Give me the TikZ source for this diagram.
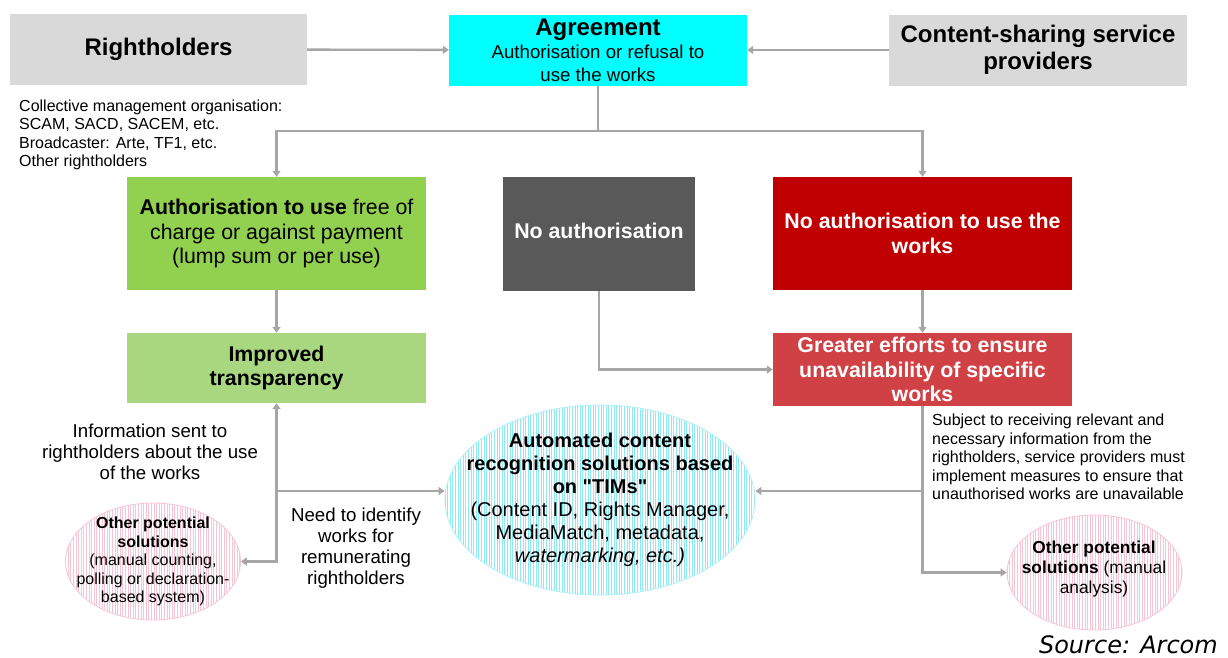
\documentclass[tikz,border=0pt]{standalone}
\usepackage{fontspec}
\setmainfont{Liberation Sans}[Ligatures=TeXOff]
\newfontfamily\srcfont{DejaVu Sans}
\usetikzlibrary{arrows.meta,shapes.geometric}
\definecolor{boxgray}{HTML}{D9D9D9}
\definecolor{agrcyan}{HTML}{00FFFF}
\definecolor{authgreen}{HTML}{92D050}
\definecolor{lightgreen}{HTML}{A9D77F}
\definecolor{darkgraybox}{HTML}{595959}
\definecolor{deepred}{HTML}{C00000}
\definecolor{midred}{HTML}{D04145}
\definecolor{linegray}{HTML}{A6A6A6}
\definecolor{hatchcyan}{HTML}{8CEAF3}
\definecolor{hatchpink}{HTML}{F7C4D4}
\tikzset{
  box/.style={rectangle, inner sep=0pt, align=center},
  conn/.style={draw=linegray, line width=2.4pt},
  arr/.style={conn, -{Triangle[length=6pt,width=8pt]}},
  arrboth/.style={conn, {Triangle[length=6pt,width=8pt]}-{Triangle[length=6pt,width=8pt]}},
  fbig/.style={font=\bfseries\fontsize{24}{27}\selectfont},
  fmid/.style={font=\fontsize{18.67}{21.2}\selectfont},
  fsmall/.style={font=\fontsize{16}{18.4}\selectfont},
  fbox/.style={font=\bfseries\fontsize{21.33}{24.5}\selectfont},
  hatchc/.style={ellipse, inner sep=0pt, draw=hatchcyan!70, line width=0.8pt,
    path picture={\foreach \i in {0,2.6,...,330}{\draw[hatchcyan, line width=0.9pt]
      ([xshift=\i pt]path picture bounding box.south west) -- ([xshift=\i pt]path picture bounding box.north west);}}},
  hatchp/.style={ellipse, inner sep=0pt, draw=hatchpink, line width=0.8pt,
    path picture={\foreach \i in {0,2.6,...,190}{\draw[hatchpink, line width=0.8pt]
      ([xshift=\i pt]path picture bounding box.south west) -- ([xshift=\i pt]path picture bounding box.north west);}}},
}
\begin{document}
\begin{tikzpicture}[x=1pt,y=-1pt]
\useasboundingbox (0,0) rectangle (1228,657);
\fill[white] (0,0) rectangle (1228,657);

% top row
\node[box, fill=boxgray, minimum width=297, minimum height=71, fbig] (rh) at (158.5,49.5) {Rightholders};
\node[box, fill=agrcyan, minimum width=298, minimum height=71,
      font=\fontsize{18.67}{23}\selectfont] (agr) at (598,50)
  {{\bfseries\fontsize{24}{23}\selectfont Agreement}\\
   Authorisation or refusal to\\
   use the works};
\node[box, fill=boxgray, minimum width=298, minimum height=71, fbig] (csp) at (1038,50)
  {Content-sharing service\\providers};

\node[anchor=west, align=left, inner sep=0pt, fsmall] (rhinfo) at (19,135)
  {Collective management organisation:\\SCAM, SACD, SACEM, etc.\\Broadcaster: Arte, TF1, etc.\\Other rightholders};

% second row
\node[box, fill=authgreen, minimum width=299, minimum height=113,
      font=\fontsize{21.33}{24.5}\selectfont] (auth) at (276.5,233.5)
  {\textbf{Authorisation to use} free of\\charge or against payment\\(lump sum or per use)};
\node[box, fill=darkgraybox, minimum width=192, minimum height=114] (noauth) at (599,234) {};
\node[inner sep=0pt, text=white, fbox] (noauthtxt) at (599,231) {No authorisation};
\node[box, fill=deepred, text=white, minimum width=299, minimum height=113, fbox] (nauthw) at (922.5,233.5)
  {No authorisation to use the\\works};

% third row
\node[box, fill=lightgreen, minimum width=299, minimum height=70, fbox] (impr) at (276.5,368)
  {Improved\\transparency};
\node[box, fill=midred, text=white, minimum width=299, minimum height=73, fbox] (greater) at (922.5,369.5)
  {Greater efforts to ensure\\unavailability of specific\\works};

% ellipses
\node[hatchc, minimum width=310, minimum height=190] (acr) at (600,500) {};
\node[align=center, inner sep=0pt, font=\fontsize{20}{23}\selectfont] (acrtxt) at (acr.center)
  {\textbf{Automated content}\\\textbf{recognition solutions based}\\\textbf{on "TIMs"}\\(Content ID, Rights Manager,\\MediaMatch, metadata,\\\textit{watermarking, etc.)}};
\node[hatchp, minimum width=175, minimum height=117] (oleft) at (153,561.5) {};
\node[align=center, inner sep=0pt, fsmall] (olefttxt) at (oleft.center)
  {\textbf{Other potential}\\\textbf{solutions}\\(manual counting,\\polling or declaration-\\based system)};
\node[hatchp, minimum width=175, minimum height=115] (oright) at (1094.5,572.5) {};
\node[align=center, inner sep=0pt, font=\fontsize{17.33}{20}\selectfont] (orighttxt) at (1094,569)
  {\textbf{Other potential}\\\textbf{solutions} (manual\\analysis)};

% free texts
\node[align=center, inner sep=0pt, fmid] (infosent) at (150,452)
  {Information sent to\\rightholders about the use\\of the works};
\node[align=center, inner sep=0pt, fmid] (needid) at (356,548)
  {Need to identify\\works for\\remunerating\\rightholders};
\node[anchor=west, align=left, inner sep=0pt, fsmall] (rinfo) at (932,457)
  {Subject to receiving relevant and\\necessary information from the\\rightholders, service providers must\\implement measures to ensure that\\unauthorised works are unavailable};
\node[anchor=base east, inner sep=0pt, font=\srcfont\itshape\fontsize{24}{28}\selectfont] (src) at (1218,653)
  {Source: Arcom};

% connectors
\draw[arr] (rh) -- (agr);
\draw[arr] (csp) -- (agr);
\draw[conn] (agr.south) -- ++(0,45) coordinate (split);
\draw[arr] (split) -| (auth.north);
\draw[arr] (split) -| (nauthw.north);
\draw[arr] (auth) -- (impr);
\draw[arr] (nauthw) -- (greater);
\draw[arr] (noauth.south) |- (greater.west);

\coordinate (lcorner) at (impr.south |- oleft.east);
\coordinate (lsplit) at (impr.south |- 0,491);
\draw[arrboth] (oleft.east) -- (lcorner) -- (impr.south);
\draw[arr] (lsplit) -- (lsplit -| acr.west);

\coordinate (rsplit) at (greater.south |- 0,491);
\draw[arr] (greater.south) |- (oright.west);
\draw[arr] (rsplit) -- (rsplit -| acr.east);
\end{tikzpicture}
\end{document}
